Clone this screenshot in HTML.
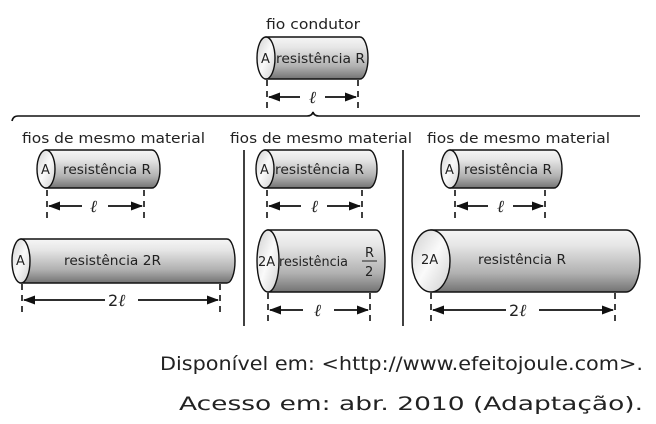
<!DOCTYPE html>
<html><head><meta charset="utf-8"><style>
html,body{margin:0;padding:0;background:#fff;}
svg{display:block;font-family:"DejaVu Sans","Liberation Sans",sans-serif;}
</style></head><body>
<svg width="656" height="424" viewBox="0 0 656 424" xmlns="http://www.w3.org/2000/svg">
<defs>
<linearGradient id="g" x1="0" y1="0" x2="0" y2="1">
<stop offset="0" stop-color="#f6f6f6"/><stop offset="0.25" stop-color="#e6e6e6"/><stop offset="0.7" stop-color="#b0b0b0"/><stop offset="1" stop-color="#737373"/>
</linearGradient>
<linearGradient id="f" x1="0" y1="0" x2="1" y2="1">
<stop offset="0" stop-color="#d0d0d0"/><stop offset="0.5" stop-color="#fafafa"/><stop offset="1" stop-color="#cfcfcf"/>
</linearGradient>
<marker id="ah" markerWidth="12" markerHeight="9" refX="11" refY="4.5" orient="auto" markerUnits="userSpaceOnUse"><path d="M0,0 L12,4.5 L0,9 Z" fill="#111"/></marker>
</defs>
<g stroke="#111" stroke-width="1.4">
<path d="M266,37 H360 A8,21 0 0 1 360,79 H266 Z" fill="url(#g)"/>
<ellipse cx="266" cy="58" rx="9" ry="21" fill="url(#f)"/>
<path d="M46,150 H152 A8,19 0 0 1 152,188 H46 Z" fill="url(#g)"/>
<ellipse cx="46" cy="169" rx="9" ry="19" fill="url(#f)"/>
<path d="M21,239 H227 A8,22 0 0 1 227,283 H21 Z" fill="url(#g)"/>
<ellipse cx="21" cy="261" rx="9" ry="22" fill="url(#f)"/>
<path d="M265,150 H369 A8,19 0 0 1 369,188 H265 Z" fill="url(#g)"/>
<ellipse cx="265" cy="169" rx="9" ry="19" fill="url(#f)"/>
<path d="M268,230 H376 A9,31 0 0 1 376,292 H268 Z" fill="url(#g)"/>
<ellipse cx="268" cy="261" rx="11" ry="31" fill="url(#f)"/>
<path d="M450,150 H554 A8,19 0 0 1 554,188 H450 Z" fill="url(#g)"/>
<ellipse cx="450" cy="169" rx="9" ry="19" fill="url(#f)"/>
<path d="M431,230 H626 A14,31 0 0 1 626,292 H431 Z" fill="url(#g)"/>
<ellipse cx="431" cy="261" rx="19" ry="31" fill="url(#f)"/>
</g>
<g stroke="#111" stroke-width="1.6" fill="none">
<line x1="244" y1="150" x2="244" y2="326"/>
<line x1="403" y1="150" x2="403" y2="326"/>
<path d="M12,121 Q13,116 18,116 H307 Q312,116 313,112 Q314,116 319,116 H640"/>
</g>
<g stroke="#111" stroke-width="1.6" stroke-dasharray="6,5">
<line x1="267" y1="80" x2="267" y2="108"/><line x1="358" y1="80" x2="358" y2="108"/>
<line x1="47" y1="190" x2="47" y2="218"/><line x1="144" y1="190" x2="144" y2="218"/>
<line x1="22" y1="284" x2="22" y2="316"/><line x1="220" y1="284" x2="220" y2="316"/>
<line x1="267" y1="190" x2="267" y2="218"/><line x1="362" y1="190" x2="362" y2="218"/>
<line x1="268" y1="293" x2="268" y2="322"/><line x1="370" y1="293" x2="370" y2="322"/>
<line x1="455" y1="190" x2="455" y2="218"/><line x1="545" y1="190" x2="545" y2="218"/>
<line x1="431" y1="293" x2="431" y2="322"/><line x1="615" y1="293" x2="615" y2="322"/>
</g>
<g stroke="#111" stroke-width="1.8" marker-end="url(#ah)">
<line x1="300" y1="97" x2="269" y2="97"/><line x1="325" y1="97" x2="356" y2="97"/>
<line x1="82" y1="206" x2="49" y2="206"/><line x1="108" y1="206" x2="142" y2="206"/>
<line x1="105" y1="300" x2="24" y2="300"/><line x1="138" y1="300" x2="218" y2="300"/>
<line x1="301" y1="206" x2="269" y2="206"/><line x1="327" y1="206" x2="360" y2="206"/>
<line x1="303" y1="310" x2="270" y2="310"/><line x1="334" y1="310" x2="368" y2="310"/>
<line x1="488" y1="206" x2="457" y2="206"/><line x1="513" y1="206" x2="543" y2="206"/>
<line x1="506" y1="310" x2="433" y2="310"/><line x1="539" y1="310" x2="613" y2="310"/>
</g>
<g fill="#222" font-size="14">
<text x="266" y="29" textLength="94" lengthAdjust="spacingAndGlyphs">fio condutor</text>
<text x="22" y="143" textLength="183" lengthAdjust="spacingAndGlyphs">fios de mesmo material</text>
<text x="230" y="143" textLength="182" lengthAdjust="spacingAndGlyphs">fios de mesmo material</text>
<text x="427" y="143" textLength="183" lengthAdjust="spacingAndGlyphs">fios de mesmo material</text>
</g>
<g fill="#222" font-size="13">
<text x="261" y="63">A</text><text x="276" y="63" textLength="89" lengthAdjust="spacingAndGlyphs">resistência R</text>
<text x="41" y="174">A</text><text x="63" y="174" textLength="88" lengthAdjust="spacingAndGlyphs">resistência R</text>
<text x="16" y="265">A</text><text x="64" y="265" textLength="97" lengthAdjust="spacingAndGlyphs">resistência 2R</text>
<text x="260" y="174">A</text><text x="275" y="174" textLength="89" lengthAdjust="spacingAndGlyphs">resistência R</text>
<text x="258" y="266">2A</text><text x="279" y="266" textLength="69" lengthAdjust="spacingAndGlyphs">resistência</text>
<text x="365" y="257">R</text><line x1="362" y1="261" x2="377" y2="261" stroke="#222" stroke-width="1"/><text x="365" y="276">2</text>
<text x="445" y="174">A</text><text x="464" y="174" textLength="88" lengthAdjust="spacingAndGlyphs">resistência R</text>
<text x="421" y="264">2A</text><text x="478" y="264" textLength="88" lengthAdjust="spacingAndGlyphs">resistência R</text>
</g>
<g fill="#222" font-size="17" font-style="italic" font-family="Liberation Serif,serif">
<text x="309" y="103">ℓ</text><text x="90" y="212">ℓ</text><text x="311" y="212">ℓ</text><text x="314" y="316">ℓ</text><text x="497" y="212">ℓ</text>
</g>
<g fill="#222" font-size="16">
<text x="108" y="306">2<tspan font-family="Liberation Serif,serif" font-style="italic" font-size="17">ℓ</tspan></text>
<text x="509" y="316">2<tspan font-family="Liberation Serif,serif" font-style="italic" font-size="17">ℓ</tspan></text>
</g>
<g fill="#222" font-size="19">
<text x="160" y="370" textLength="483" lengthAdjust="spacingAndGlyphs">Disponível em: &lt;http://www.efeitojoule.com&gt;.</text>
<text x="179" y="410" textLength="464" lengthAdjust="spacingAndGlyphs">Acesso em: abr. 2010 (Adaptação).</text>
</g>
</svg>
</body></html>
